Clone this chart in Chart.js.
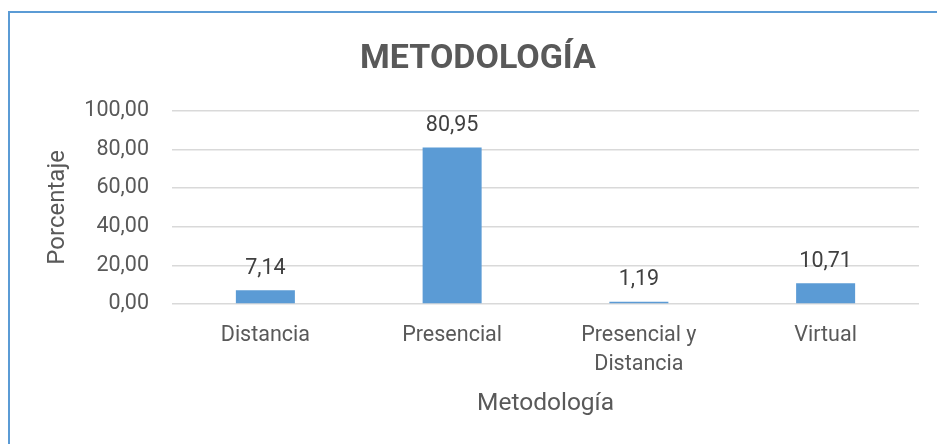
<!DOCTYPE html>
<html><head><meta charset="utf-8">
<script src="https://cdn.jsdelivr.net/npm/chart.js@4.4.1/dist/chart.umd.min.js"></script>
<style>
html,body{margin:0;padding:0;background:#fff;overflow:hidden;width:937px;height:444px;}
#frame{position:absolute;left:8px;top:11px;width:2000px;height:2000px;border-left:2px solid #5B9BD5;border-top:2px solid #5B9BD5;}
#wrap{position:absolute;left:0;top:0;width:956px;height:444px;}
</style></head>
<body>
<div id="frame"></div>
<div id="wrap"><canvas id="c" width="956" height="444"></canvas></div>
<script>
const categories = [["Distancia"], ["Presencial"], ["Presencial y", "Distancia"], ["Virtual"]];
const values = [7.14, 80.95, 1.19, 10.71];
const yTicks = [0, 20, 40, 60, 80, 100];
const chartTitle = "METODOLOGÍA";
const xTitle = "Metodología";
const yTitle = "Porcentaje";

const fmt = v => v.toFixed(2).replace('.', ',');
const FONT = "Roboto, 'Open Sans', sans-serif";

const dataLabels = {
  id: 'dataLabels',
  afterDatasetsDraw(chart) {
    const ctx = chart.ctx;
    const meta = chart.getDatasetMeta(0);
    ctx.save();
    ctx.fillStyle = '#404040';
    ctx.font = "21.5px " + FONT;
    ctx.textAlign = 'center';
    ctx.textBaseline = 'alphabetic';
    meta.data.forEach((bar, i) => {
      ctx.fillText(fmt(values[i]), bar.x, bar.y - 16.5);
    });
    ctx.restore();
  }
};

new Chart(document.getElementById('c'), {
  type: 'bar',
  data: {
    labels: categories,
    datasets: [{
      data: values,
      backgroundColor: '#5B9BD5',
      borderWidth: 0,
      categoryPercentage: 1,
      barPercentage: 0.316
    }]
  },
  options: {
    responsive: false,
    animation: false,
    devicePixelRatio: 1,
    layout: { padding: { left: 37, right: 37, top: 0, bottom: 0 } },
    plugins: {
      legend: { display: false },
      tooltip: { enabled: false },
      title: {
        display: true,
        text: chartTitle,
        color: '#595959',
        font: { family: FONT, size: 34, weight: 'bold' },
        padding: { top: 39, bottom: 31 }
      }
    },
    scales: {
      x: {
        grid: { display: false, drawTicks: false },
        border: { display: false },
        ticks: {
          color: '#595959',
          font: { family: FONT, size: 21.5, lineHeight: 1.35 },
          padding: 17,
          maxRotation: 0,
          autoSkip: false
        },
        title: {
          display: true,
          text: xTitle,
          color: '#595959',
          font: { family: FONT, size: 24.5 },
          padding: { top: 4, bottom: 25 }
        },
        afterFit(s) { s.height = 140; }
      },
      y: {
        min: 0,
        max: 100,
        afterBuildTicks(s) { s.ticks = yTicks.map(v => ({ value: v })); },
        grid: { color: '#D9D9D9', lineWidth: 1.5, drawTicks: false },
        border: { display: false },
        ticks: {
          color: '#595959',
          font: { family: FONT, size: 21.5 },
          padding: 23,
          callback: v => fmt(v)
        },
        title: {
          display: true,
          text: yTitle,
          color: '#595959',
          font: { family: FONT, size: 24 },
          padding: { top: 7, bottom: 0 }
        },
        afterFit(s) { s.width = 135; }
      }
    }
  },
  plugins: [dataLabels]
});
</script>
</body></html>
